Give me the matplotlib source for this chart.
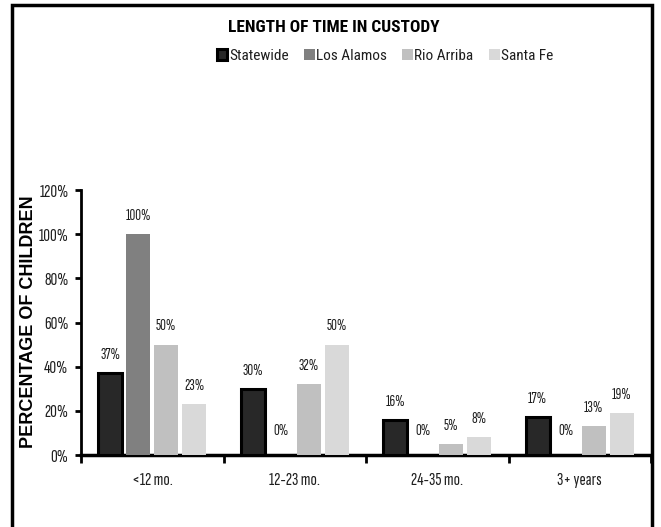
import matplotlib
matplotlib.use("Agg")
import matplotlib.pyplot as plt
from matplotlib.patches import Rectangle
import numpy as np

categories = ["<12 mo.", "12-23 mo.", "24-35 mo.", "3+ years"]
series_names = ["Statewide", "Los Alamos", "Rio Arriba", "Santa Fe"]
statewide = [37, 30, 16, 17]
los_alamos = [100, 0, 0, 0]
rio_arriba = [50, 32, 5, 13]
santa_fe = [23, 50, 8, 19]
y_ticks = [0, 20, 40, 60, 80, 100, 120]

colors = ["#282828", "#808080", "#c0c0c0", "#d9d9d9"]
narrow = ["Sofia Sans Extra Condensed", "Roboto Condensed", "DejaVu Sans"]
cond = ["Roboto Condensed", "DejaVu Sans"]
txtcol = "#1e1e1e"

fig = plt.figure(figsize=(6.61, 5.27), dpi=100)
ax = fig.add_axes([81/661, 1-455/527, (651-81)/661, (455-190)/527])

x = np.arange(len(categories))
step = 0.197
width = 0.17
all_series = [statewide, los_alamos, rio_arriba, santa_fe]
for i, (name, vals, c) in enumerate(zip(series_names, all_series, colors)):
    pos = x + (i - 1.5) * step
    if i == 0:
        ax.bar(pos, vals, width, color=c, edgecolor="black", linewidth=2.2, label=name, zorder=3)
    else:
        ax.bar(pos, vals, width, color=c, edgecolor="none", label=name, zorder=3)
    for p, v in zip(pos, vals):
        off = 12 if v == 0 else 8
        ax.annotate(f"{v}%", (p, v), xytext=(0, off), textcoords="offset points",
                    ha="center", va="bottom", fontsize=11.5, color=txtcol, family=narrow)

ax.set_xlim(-0.5, len(categories) - 0.5)
ax.set_ylim(0, 120)
ax.set_yticks(y_ticks)
ax.set_yticklabels([f"{t}%" for t in y_ticks], family=narrow, fontsize=13.5, color=txtcol)
ax.set_xticks(np.arange(len(categories) + 1) - 0.5)
ax.set_xticklabels([])
ax.set_xticks(x, minor=True)
ax.set_xticklabels(categories, minor=True, family=narrow, fontsize=13.5, color=txtcol)
ax.tick_params(axis="x", which="minor", length=0, pad=12)
ax.tick_params(axis="x", which="major", length=6, width=2, direction="out")
ax.tick_params(axis="y", length=4, width=2, direction="out", pad=5)

for s in ["top", "right"]:
    ax.spines[s].set_visible(False)
ax.spines["left"].set_linewidth(2)
ax.spines["bottom"].set_linewidth(2.5)

fig.text(29/661, 1-322/527, "PERCENTAGE OF CHILDREN", rotation=90, ha="center", va="center",
         fontsize=13, fontweight="bold", family=["Liberation Sans", "DejaVu Sans"])

fig.text(334/661, 1-28/527, "LENGTH OF TIME IN CUSTODY", ha="center", va="center",
         fontsize=12.5, fontweight="bold", family=cond)

leg = fig.legend(loc="center", bbox_to_anchor=(385/661, 1-56/527), ncol=4, frameon=False,
                 prop={"family": cond, "size": 11}, handlelength=0.7, handleheight=0.7,
                 handletextpad=0.1, columnspacing=1.0)
for h in leg.legend_handles:
    h.set_edgecolor("none")
leg.legend_handles[0].set_edgecolor("black")
for t in leg.get_texts():
    t.set_color("#1e1e1e")

fig.patches.append(Rectangle((12/661, -0.05), (652-12)/661, 1-5/527+0.05, transform=fig.transFigure,
                             fill=False, edgecolor="black", linewidth=2.5))

fig.savefig("out.png", dpi=100)
